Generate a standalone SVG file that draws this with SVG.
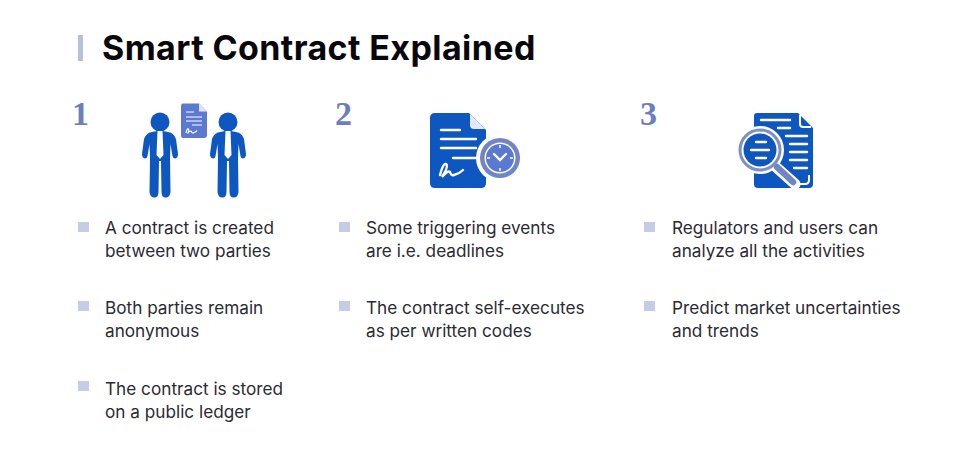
<svg xmlns="http://www.w3.org/2000/svg" width="960" height="459" viewBox="0 0 960 459">
<style>
.t{font-family:"Inter","Liberation Sans",sans-serif;font-size:17.200px;fill:#2b2b33}
.h{font-family:"Inter","Liberation Sans",sans-serif;font-size:34px;font-weight:700;letter-spacing:.4px;fill:#08080c}
.n{font-family:"Liberation Serif",serif;font-size:34px;font-weight:700;fill:#6b7fbd}
.b{fill:#c5cde6}
.blue{fill:#0f57c0}
.wl{stroke:#fff;stroke-width:2.4;fill:none;stroke-linecap:round}
</style>
<defs>
<g id="person">
<circle cx="0" cy="-50" r="9.500" class="blue"/>
<path class="blue" d="M-8-40Q-14-39-16-33L-18-18Q-18-14-15-13.500Q-13-13.500-12.500-16L-10.500-28L-10-14L-10.500 20Q-10 25.500-5.500 25.500Q-1.500 25.500-1.500 20L-1-11L1-11L1.500 20Q1.500 25.500 5.500 25.500Q10 25.500 10.500 20L10-14L10.500-28L12.500-16Q13-13.500 15-13.500Q18-14 18-18L16-33Q14-39 8-40L3-41H-3Z"/>
<path fill="#fff" d="M-2.500-41L2.500-41L3.500-17L0-13L-3.500-17Z"/>
</g>
</defs>
<rect width="960" height="459" fill="#fff"/>
<g id="title">
<rect x="78" y="35" width="5" height="26" fill="#b4c2dd"/>
<text class="h" x="102" y="60">Smart Contract Explained</text>
</g>
<g id="connectors"/>
<g id="step-1">
<text class="n" x="72" y="125">1</text>
<use href="#person" x="160" y="172"/>
<use href="#person" x="228" y="172"/>
<path d="M183 103.500H199L207 111.500V135Q207 138 204 138H183Q181 138 181 135V106.500Q181 103.500 183 103.500Z" fill="#5b78d2"/>
<path d="M199 103.500V111.500H207Z" fill="#dfe5f6"/>
<path d="M186 112H194M186 117H202M186 121H202M192 125H202" stroke="#fff" stroke-width="1.200" fill="none"/>
<path d="M186 133Q187 128 188.500 129Q189.500 131 187.500 133.500Q190 130 191.500 131.500Q192 134 194 132.500Q196 132 197 130.500" stroke="#fff" stroke-width="1.200" fill="none"/>
<rect class="b" x="78" y="222" width="11" height="10"/>
<text class="t" x="105" y="234">A contract is created</text>
<text class="t" x="105" y="257">between two parties</text>
<rect class="b" x="78" y="301" width="11" height="10"/>
<text class="t" x="105" y="314">Both parties remain</text>
<text class="t" x="105" y="337">anonymous</text>
<rect class="b" x="78" y="381" width="11" height="10"/>
<text class="t" x="105" y="395">The contract is stored</text>
<text class="t" x="105" y="418">on a public ledger</text>
</g>
<g id="step-2">
<text class="n" x="335" y="125">2</text>
<path class="blue" d="M435 113H469L486 130V183Q486 188 481 188H435Q430 188 430 183V118Q430 113 435 113Z"/>
<path d="M470 114V125Q470 129 474 129H485Z" fill="#e4e9f7"/>
<path class="wl" d="M441 130H460M441 139H476M441 148H476M453 158H476"/>
<path class="wl" d="M440 175Q443 163 446 164Q449 166 442 177Q448 170 450 172Q451 176 454 175Q459 174 463 170"/>
<circle cx="500" cy="158" r="24" fill="#fff"/>
<circle cx="500" cy="158" r="20" fill="#7184c4"/>
<circle cx="500" cy="158" r="15.500" fill="#fff"/>
<circle cx="500" cy="158" r="14" fill="#5b78d2"/>
<path class="wl" d="M494 154L500 160L506 154" stroke-width="2"/>
<path d="M500 145V148M500 168V171M487 158H490M510 158H513" stroke="#fff" stroke-width="1.500"/>
<rect class="b" x="339" y="222" width="11" height="10"/>
<text class="t" x="366" y="234">Some triggering events</text>
<text class="t" x="366" y="257">are i.e. deadlines</text>
<rect class="b" x="339" y="301" width="11" height="10"/>
<text class="t" x="366" y="314">The contract self-executes</text>
<text class="t" x="366" y="337">as per written codes</text>
</g>
<g id="step-3">
<text class="n" x="640" y="125">3</text>
<path class="blue" d="M757 113H798L813 128V184Q813 188 809 188H758Q754 188 754 184V116Q754 113 757 113Z"/>
<path d="M800 115V124Q800 127 803 127H811" stroke="#fff" stroke-width="2" fill="none"/>
<path class="wl" d="M761 120H790M778 128H790M786 136H807M790 144H807M790 152H807M790 160H807M794 168H807"/>
<path d="M800 184H805Q809 184 809 180V175" stroke="#fff" stroke-width="2" fill="none"/>
<path d="M776 167L795 184" stroke="#fff" stroke-width="11" stroke-linecap="round"/>
<circle cx="760" cy="150" r="24" fill="#fff"/>
<path d="M777 167L793 182" stroke="#7184c4" stroke-width="6.500" stroke-linecap="round"/>
<circle cx="760" cy="150" r="16.500" fill="#0f57c0"/>
<circle cx="760" cy="150" r="20" fill="none" stroke="#7f8fc4" stroke-width="3"/>
<path class="wl" d="M756 142H766M751 150H769M756 158H766" stroke-width="2"/>
<rect class="b" x="644" y="222" width="11" height="10"/>
<text class="t" x="672" y="234">Regulators and users can</text>
<text class="t" x="672" y="257">analyze all the activities</text>
<rect class="b" x="644" y="301" width="11" height="10"/>
<text class="t" x="672" y="314">Predict market uncertainties</text>
<text class="t" x="672" y="337">and trends</text>
</g>
</svg>
